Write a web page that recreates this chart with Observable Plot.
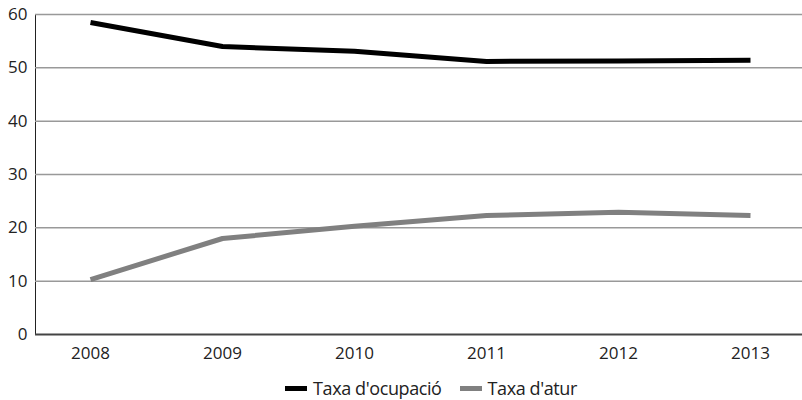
<!DOCTYPE html>
<html>
<head>
<meta charset="utf-8">
<script src="https://cdn.jsdelivr.net/npm/d3@7"></script>
<script src="https://cdn.jsdelivr.net/npm/@observablehq/plot@0.6"></script>
<style>
  html, body { margin: 0; padding: 0; background: #fff; }
  #chart { width: 802px; font-family: "Open Sans", sans-serif; }
  .legend { display: flex; justify-content: center; align-items: center; height: 40px; font-size: 18px; letter-spacing: -0.4px; color: #222; padding-left: 60px; box-sizing: border-box; width: 802px; }
  .legend .item { display: flex; align-items: center; margin: 0 9px; }
  .legend .sw { width: 22px; height: 5px; margin-right: 6px; }
  #chart svg text { font-size: 17px; }
</style>
</head>
<body>
<div id="chart"></div>
<script>
const years = ["2008", "2009", "2010", "2011", "2012", "2013"];
const ocupacio = [58.5, 54.0, 53.1, 51.2, 51.3, 51.4];
const atur = [10.3, 18.0, 20.3, 22.3, 22.9, 22.3];
const yTicks = [0, 10, 20, 30, 40, 50, 60];
const seriesNames = ["Taxa d'ocupació", "Taxa d'atur"];
const seriesColors = ["#000000", "#808080"];

const rowsOcc = years.map((y, i) => ({year: y, value: ocupacio[i]}));
const rowsAtur = years.map((y, i) => ({year: y, value: atur[i]}));

const plot = Plot.plot({
  width: 802,
  height: 368,
  marginLeft: 35,
  marginRight: 0,
  marginTop: 14,
  marginBottom: 34,
  style: {fontFamily: '"Open Sans", sans-serif', fontSize: "17px", color: "#222", background: "#fff"},
  x: {type: "point", domain: years, range: [90, 750], padding: 0, label: null, tickSize: 0, tickPadding: 12},
  y: {domain: [0, 60], ticks: yTicks, label: null, tickSize: 0, tickPadding: 8, line: true},
  marks: [
    Plot.ruleY(yTicks.filter(d => d > 0), {stroke: "#999", strokeWidth: 1.5, strokeOpacity: 1}),
    Plot.ruleY([0], {stroke: "#444", strokeWidth: 2}),
    Plot.line(rowsOcc, {x: "year", y: "value", stroke: seriesColors[0], strokeWidth: 5, strokeLinecap: "butt"}),
    Plot.line(rowsAtur, {x: "year", y: "value", stroke: seriesColors[1], strokeWidth: 5, strokeLinecap: "butt"})
  ]
});
document.getElementById("chart").appendChild(plot);

const legend = document.createElement("div");
legend.className = "legend";
seriesNames.forEach((n, i) => {
  const item = document.createElement("div");
  item.className = "item";
  const sw = document.createElement("span");
  sw.className = "sw";
  sw.style.background = seriesColors[i];
  const t = document.createElement("span");
  t.textContent = n;
  item.appendChild(sw);
  item.appendChild(t);
  legend.appendChild(item);
});
document.getElementById("chart").appendChild(legend);
</script>
</body>
</html>
